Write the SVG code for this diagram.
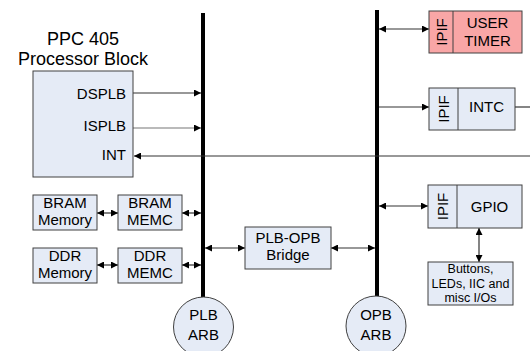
<svg xmlns="http://www.w3.org/2000/svg" width="530" height="351" viewBox="0 0 530 351">
<style>
.box{fill:#E5EBF6;stroke:#404040;stroke-width:1}
.red{fill:#F9A6A6;stroke:#404040;stroke-width:1}
.t{font-family:"Liberation Sans",Arial,sans-serif;font-size:15px;fill:#000;text-anchor:middle}
.r{text-anchor:end}
.s{font-size:12.5px}
.h{font-size:18px}
.c{stroke:#333;stroke-width:1.2;fill:none}
.bus{stroke:#000;stroke-width:4;fill:none}
</style>
<defs>
<marker id="a" viewBox="0 0 8 8" markerWidth="7" markerHeight="7" refX="8" refY="4" orient="auto-start-reverse" markerUnits="userSpaceOnUse">
<path d="M0,0 L8,4 L0,8 z" fill="#000"/>
</marker>
</defs>
<rect width="530" height="351" fill="#fff"/>
<g id="buses">
<line class="bus" x1="203" y1="13" x2="203" y2="297"/>
<line class="bus" x1="377" y1="10" x2="377" y2="296"/>
</g>
<g id="connectors">
<line class="c" x1="133" y1="93" x2="201" y2="93" marker-end="url(#a)"/>
<line class="c" x1="133" y1="128" x2="201" y2="128" stroke="#777" style="stroke:#777" marker-end="url(#a)"/>
<line class="c" x1="530" y1="156" x2="134" y2="156" marker-end="url(#a)"/>
<line class="c" x1="379" y1="29" x2="429" y2="29" marker-start="url(#a)" marker-end="url(#a)"/>
<line class="c" x1="379" y1="107" x2="429" y2="107" marker-end="url(#a)"/>
<line class="c" x1="515" y1="107" x2="530" y2="107"/>
<line class="c" x1="379" y1="206" x2="428" y2="206" marker-start="url(#a)" marker-end="url(#a)"/>
<line class="c" x1="479" y1="228" x2="479" y2="262" marker-start="url(#a)" marker-end="url(#a)"/>
<line class="c" x1="205" y1="248" x2="245" y2="248" marker-start="url(#a)" marker-end="url(#a)"/>
<line class="c" x1="331" y1="248" x2="375" y2="248" marker-start="url(#a)" marker-end="url(#a)"/>
<line class="c" x1="97" y1="213" x2="118" y2="213" marker-start="url(#a)" marker-end="url(#a)"/>
<line class="c" x1="182" y1="213" x2="201" y2="213" marker-start="url(#a)" marker-end="url(#a)"/>
<line class="c" x1="97" y1="265" x2="118" y2="265" marker-start="url(#a)" marker-end="url(#a)"/>
<line class="c" x1="182" y1="265" x2="201" y2="265" marker-start="url(#a)" marker-end="url(#a)"/>
</g>
<g id="ppc405">
<text class="t h" x="83" y="45">PPC 405</text>
<text class="t h" x="83" y="65">Processor Block</text>
<rect class="box" x="33" y="71" width="100" height="106"/>
<text class="t r" x="126" y="99">DSPLB</text>
<text class="t r" x="126" y="131">ISPLB</text>
<text class="t r" x="126" y="160">INT</text>
</g>
<g id="bram-memory">
<rect class="box" x="33" y="195" width="64" height="35"/>
<text class="t" x="65" y="208">BRAM</text>
<text class="t" x="65" y="225">Memory</text>
</g>
<g id="bram-memc">
<rect class="box" x="118" y="195" width="64" height="35"/>
<text class="t" x="150" y="208">BRAM</text>
<text class="t" x="150" y="225">MEMC</text>
</g>
<g id="ddr-memory">
<rect class="box" x="33" y="248" width="64" height="35"/>
<text class="t" x="65" y="261">DDR</text>
<text class="t" x="65" y="278">Memory</text>
</g>
<g id="ddr-memc">
<rect class="box" x="118" y="248" width="64" height="35"/>
<text class="t" x="150" y="261">DDR</text>
<text class="t" x="150" y="278">MEMC</text>
</g>
<g id="bridge">
<rect class="box" x="245" y="227" width="86" height="42"/>
<text class="t" x="288" y="243">PLB-OPB</text>
<text class="t" x="288" y="260">Bridge</text>
</g>
<g id="user-timer">
<rect class="red" x="429" y="11" width="93" height="42"/>
<line class="c" x1="453" y1="11" x2="453" y2="53" style="stroke:#404040;stroke-width:1"/>
<text class="t" transform="translate(446.5,32) rotate(-90)">IPIF</text>
<text class="t" x="487.5" y="28">USER</text>
<text class="t" x="487.5" y="46">TIMER</text>
</g>
<g id="intc">
<rect class="box" x="429" y="88" width="86" height="42"/>
<line class="c" x1="458" y1="88" x2="458" y2="130" style="stroke:#404040;stroke-width:1"/>
<text class="t" transform="translate(449,109) rotate(-90)">IPIF</text>
<text class="t" x="486.5" y="112">INTC</text>
</g>
<g id="gpio">
<rect class="box" x="428" y="185" width="94" height="43"/>
<line class="c" x1="457" y1="185" x2="457" y2="228" style="stroke:#404040;stroke-width:1"/>
<text class="t" transform="translate(448,206.5) rotate(-90)">IPIF</text>
<text class="t" x="489.5" y="212">GPIO</text>
</g>
<g id="io">
<rect class="box" x="428" y="262" width="85" height="43"/>
<text class="t s" x="470.5" y="273">Buttons,</text>
<text class="t s" x="470.5" y="288">LEDs, IIC and</text>
<text class="t s" x="470.5" y="302">misc I/Os</text>
</g>
<g id="plb-arb">
<circle class="box" cx="203.5" cy="327" r="30"/>
<text class="t" x="203.5" y="320">PLB</text>
<text class="t" x="203.5" y="340">ARB</text>
</g>
<g id="opb-arb">
<circle class="box" cx="376" cy="326" r="30"/>
<text class="t" x="376" y="320">OPB</text>
<text class="t" x="376" y="340">ARB</text>
</g>
</svg>
